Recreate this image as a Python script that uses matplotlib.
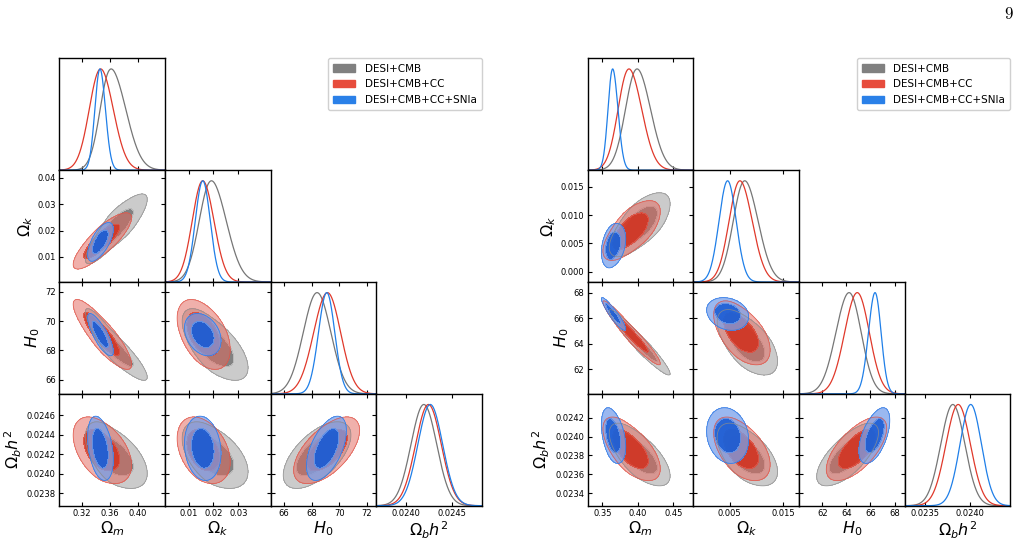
import numpy as np
import matplotlib
matplotlib.use("Agg")
import matplotlib.pyplot as plt
from matplotlib.patches import Patch

W, H = 1022, 542

datasets = ["DESI+CMB", "DESI+CMB+CC", "DESI+CMB+CC+SNIa"]
param_labels = [r"$\Omega_m$", r"$\Omega_k$", r"$H_0$", r"$\Omega_b h^2$"]

# ---------------- Left triangle (A) ----------------
# posterior mode, lower and upper widths, one entry per dataset
A_Om_mode = [0.362, 0.347, 0.346]
A_Om_lo = [0.015, 0.016, 0.0072]
A_Om_hi = [0.021, 0.018, 0.0078]
A_Ok_mode = [0.0192, 0.0157, 0.0157]
A_Ok_lo = [0.0048, 0.0042, 0.0030]
A_Ok_hi = [0.0060, 0.0045, 0.0030]
A_H0_mode = [68.4, 69.15, 69.1]
A_H0_lo = [1.0, 1.0, 0.6]
A_H0_hi = [1.0, 0.95, 0.58]
A_Ob_mode = [0.02419, 0.02424, 0.02426]
A_Ob_lo = [0.00014, 0.00014, 0.000135]
A_Ob_hi = [0.00014, 0.00014, 0.000135]
# correlations per pair, one entry per dataset
A_r_Om_Ok = [0.86, 0.83, 0.65]
A_r_Om_H0 = [-0.91, -0.86, -0.80]
A_r_Ok_H0 = [-0.65, -0.45, -0.30]
A_r_Om_Ob = [-0.55, -0.45, -0.35]
A_r_Ok_Ob = [-0.50, -0.35, -0.15]
A_r_H0_Ob = [0.60, 0.60, 0.55]
A_ranges = [(0.288, 0.4386), (0.0005, 0.0429), (65.03, 72.67), (0.02367, 0.02482)]
A_xticks = [["0.32", "0.36", "0.40"], ["0.01", "0.02", "0.03"],
            ["66", "68", "70", "72"], ["0.0240", "0.0245"]]
A_yticks = [[], ["0.01", "0.02", "0.03", "0.04"], ["66", "68", "70", "72"],
            ["0.0238", "0.0240", "0.0242", "0.0244", "0.0246"]]

# ---------------- Right triangle (B) ----------------
B_Om_mode = [0.399, 0.3876, 0.3646]
B_Om_lo = [0.016, 0.015, 0.0065]
B_Om_hi = [0.019, 0.018, 0.0075]
B_Ok_mode = [0.0078, 0.0069, 0.0046]
B_Ok_lo = [0.0021, 0.0020, 0.0016]
B_Ok_hi = [0.0025, 0.0023, 0.0016]
B_H0_mode = [64.22, 64.9, 66.38]
B_H0_lo = [1.1, 1.05, 0.55]
B_H0_hi = [1.0, 1.0, 0.5]
B_Ob_mode = [0.02381, 0.02387, 0.02401]
B_Ob_lo = [0.000135, 0.000137, 0.00012]
B_Ob_hi = [0.000135, 0.000137, 0.00012]
B_r_Om_Ok = [0.68, 0.66, 0.30]
B_r_Om_H0 = [-0.96, -0.96, -0.92]
B_r_Ok_H0 = [-0.60, -0.55, -0.20]
B_r_Om_Ob = [-0.68, -0.63, -0.40]
B_r_Ok_Ob = [-0.55, -0.50, -0.15]
B_r_H0_Ob = [0.70, 0.65, 0.55]
B_ranges = [(0.3294, 0.4782), (-0.0018, 0.0179), (60.05, 68.83), (0.02327, 0.02445)]
B_xticks = [["0.35", "0.40", "0.45"], ["0.005", "0.015"],
            ["62", "64", "66", "68"], ["0.0235", "0.0240"]]
B_yticks = [[], ["0.000", "0.005", "0.010", "0.015"], ["62", "64", "66", "68"],
            ["0.0234", "0.0236", "0.0238", "0.0240", "0.0242"]]

# ---------------- styles ----------------
line_colors = ["#767676", "#e0392b", "#1f7fe8"]
legend_colors = ["#808080", "#e74c3c", "#2a80e8"]
outer_fill = [(0.76, 0.76, 0.76, 0.85), (0.89, 0.41, 0.37, 0.52), (0.47, 0.63, 0.92, 0.75)]
inner_fill = [(0.45, 0.45, 0.45, 0.90), (0.83, 0.22, 0.15, 0.95), (0.11, 0.38, 0.85, 0.95)]
edge_cols = [(0.55, 0.55, 0.55, 0.8), (0.88, 0.32, 0.27, 0.8), (0.16, 0.47, 0.90, 0.85)]

A_modes = np.array([A_Om_mode, A_Ok_mode, A_H0_mode, A_Ob_mode])
A_lo = np.array([A_Om_lo, A_Ok_lo, A_H0_lo, A_Ob_lo])
A_hi = np.array([A_Om_hi, A_Ok_hi, A_H0_hi, A_Ob_hi])
A_corr = {(0, 1): A_r_Om_Ok, (0, 2): A_r_Om_H0, (1, 2): A_r_Ok_H0,
          (0, 3): A_r_Om_Ob, (1, 3): A_r_Ok_Ob, (2, 3): A_r_H0_Ob}
B_modes = np.array([B_Om_mode, B_Ok_mode, B_H0_mode, B_Ob_mode])
B_lo = np.array([B_Om_lo, B_Ok_lo, B_H0_lo, B_Ob_lo])
B_hi = np.array([B_Om_hi, B_Ok_hi, B_H0_hi, B_Ob_hi])
B_corr = {(0, 1): B_r_Om_Ok, (0, 2): B_r_Om_H0, (1, 2): B_r_Ok_H0,
          (0, 3): B_r_Om_Ob, (1, 3): B_r_Ok_Ob, (2, 3): B_r_H0_Ob}


def scaled(x, mu, slo, shi):
    # smoothly varying width (asymmetric posterior)
    sm = 0.5 * (slo + shi)
    w = 0.5 * (1 + np.tanh((x - mu) / (0.8 * sm)))
    s = slo * (1 - w) + shi * w
    return (x - mu) / s


LEV68 = -2 * np.log(1 - 0.68)
LEV95 = -2 * np.log(1 - 0.95)

fig = plt.figure(figsize=(W / 100, H / 100), dpi=100)

col_w = 105.6
row_h = 111.85
top0 = 58.3


def setup_ticks(ax):
    ax.tick_params(direction="in", top=True, right=True, length=3, width=0.8,
                   labelsize=6, pad=2.5)
    for s in ax.spines.values():
        s.set_linewidth(1.0)


def draw_triangle(left0, modes, lo, hi, corr, ranges, xticks, yticks):
    n = 4
    for i in range(n):
        for j in range(i + 1):
            x = left0 + j * col_w
            y = top0 + i * row_h
            ax = fig.add_axes([x / W, 1 - (y + row_h) / H, col_w / W, row_h / H])
            setup_ticks(ax)
            xr = ranges[j]
            ax.set_xlim(*xr)
            xt = [float(t) for t in xticks[j]]
            ax.set_xticks(xt)
            ax.set_xticklabels(xticks[j])
            if i == j:
                xs = np.linspace(xr[0], xr[1], 400)
                for d in range(3):
                    u = scaled(xs, modes[j][d], lo[j][d], hi[j][d])
                    ax.plot(xs, np.exp(-0.5 * u ** 2), color=line_colors[d], lw=0.9)
                ax.set_ylim(0, 1.105)
                ax.set_yticks([])
                ax.tick_params(left=False, right=False, labelleft=False)
            else:
                yr = ranges[i]
                ax.set_ylim(*yr)
                yt = [float(t) for t in yticks[i]]
                ax.set_yticks(yt)
                ax.set_yticklabels(yticks[i])
                gx = np.linspace(xr[0], xr[1], 260)
                gy = np.linspace(yr[0], yr[1], 260)
                X, Y = np.meshgrid(gx, gy)
                for d in range(3):
                    u = scaled(X, modes[j][d], lo[j][d], hi[j][d])
                    v = scaled(Y, modes[i][d], lo[i][d], hi[i][d])
                    r = corr[(j, i)][d]
                    Q = (u ** 2 - 2 * r * u * v + v ** 2) / (1 - r ** 2)
                    ax.contourf(X, Y, Q, levels=[0, LEV68, LEV95],
                                colors=[inner_fill[d], outer_fill[d]])
                    ax.contour(X, Y, Q, levels=[LEV95], colors=[edge_cols[d]],
                               linewidths=0.6)
                if j == 0:
                    ax.set_ylabel(param_labels[i], fontsize=11.5, labelpad=2)
                else:
                    ax.tick_params(labelleft=False)
            if i == n - 1:
                ax.set_xlabel(param_labels[j], fontsize=11.5, labelpad=1)
            else:
                ax.tick_params(labelbottom=False)
    handles = [Patch(facecolor=c, edgecolor=c) for c in legend_colors]
    fig.legend(handles, datasets, loc="upper right",
               bbox_to_anchor=((left0 + 4 * col_w) / W, 1 - top0 / H),
               borderaxespad=0, fontsize=7.5, handlelength=2.1, handleheight=0.75,
               handletextpad=0.9, labelspacing=0.55, borderpad=0.5,
               framealpha=1, edgecolor="#d0d0d0")


draw_triangle(59.3, A_modes, A_lo, A_hi, A_corr, A_ranges, A_xticks, A_yticks)
draw_triangle(587.7, B_modes, B_lo, B_hi, B_corr, B_ranges, B_xticks, B_yticks)

fig.text(1014 / W, 1 - 14 / H, r"$9$", ha="right", va="center", fontsize=12,
         math_fontfamily="cm")

fig.savefig("out.png", dpi=100)
